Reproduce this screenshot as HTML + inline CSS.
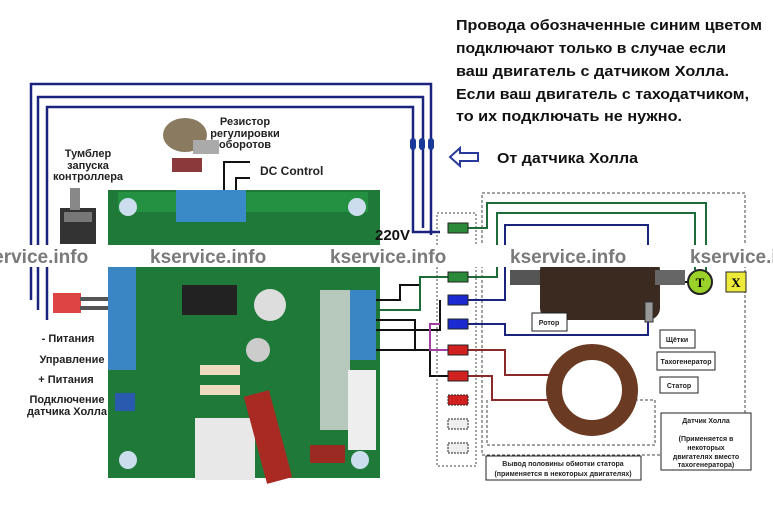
<!DOCTYPE html>
<html><head><meta charset="utf-8"><style>
body{margin:0;background:#fff;}
svg{display:block;font-family:"Liberation Sans","Noto Sans CJK SC",sans-serif;}
</style></head><body>
<svg width="773" height="511" viewBox="0 0 773 511" xmlns="http://www.w3.org/2000/svg">
<rect width="773" height="511" fill="#fff"/>
<g font-weight="bold" font-size="15" fill="#111">
<text x="456" y="30" textLength="306" lengthAdjust="spacingAndGlyphs">Провода обозначенные синим цветом</text>
<text x="456" y="53" textLength="270" lengthAdjust="spacingAndGlyphs">подключают только в случае если</text>
<text x="456" y="76" textLength="273" lengthAdjust="spacingAndGlyphs">ваш двигатель с датчиком Холла.</text>
<text x="456" y="99" textLength="293" lengthAdjust="spacingAndGlyphs">Если ваш двигатель с таходатчиком,</text>
<text x="456" y="121" textLength="226" lengthAdjust="spacingAndGlyphs">то их подключать не нужно.</text>
<text x="497" y="163" textLength="141" lengthAdjust="spacingAndGlyphs">От датчика Холла</text>
</g>
<path d="M450 157 L460 148 L460 153 L478 153 L478 161 L460 161 L460 166 Z" fill="none" stroke="#2a3a9a" stroke-width="2"/>
<g fill="none" stroke="#1a237e" stroke-width="2.5">
<path d="M31 300 V84 H431 V235"/>
<path d="M38 310 V97 H423 V228"/>
<path d="M47 320 V107 H413 V232 H440"/>
</g>
<g fill="#1a3a9a"><rect x="410" y="138" width="6" height="12" rx="3"/><rect x="419" y="138" width="6" height="12" rx="3"/><rect x="428" y="138" width="6" height="12" rx="3"/></g>
<g font-weight="bold" font-size="11" fill="#222" text-anchor="middle">
<text x="88" y="157">Тумблер</text><text x="88" y="169">запуска</text><text x="88" y="180">контроллера</text>
<text x="245" y="125">Резистор</text><text x="245" y="137">регулировки</text><text x="245" y="148">оборотов</text>
<text x="68" y="342">- Питания</text><text x="72" y="363">Управление</text><text x="66" y="383">+ Питания</text>
<text x="67" y="403">Подключение</text><text x="67" y="415">датчика Холла</text>
</g>
<text x="260" y="175" font-size="12" font-weight="bold" fill="#222">DC Control</text>
<path d="M224 193 V162 H250 M236 193 V178 H250" stroke="#111" stroke-width="2" fill="none"/>
<ellipse cx="185" cy="135" rx="22" ry="17" fill="#8a7a60"/><rect x="193" y="140" width="26" height="14" fill="#aaa"/><rect x="172" y="158" width="30" height="14" fill="#8a3a3a"/>
<rect x="60" y="208" width="36" height="36" fill="#333"/><rect x="70" y="188" width="10" height="22" fill="#888"/><rect x="64" y="212" width="28" height="10" fill="#777"/>
<rect x="53" y="293" width="28" height="20" fill="#d44"/><rect x="80" y="297" width="28" height="4" fill="#555"/><rect x="80" y="306" width="28" height="4" fill="#555"/>
<rect x="108" y="190" width="272" height="288" fill="#1f7a3a"/>
<rect x="118" y="192" width="250" height="20" fill="#239042"/>
<rect x="176" y="190" width="70" height="32" fill="#3a8ac8"/>
<rect x="108" y="265" width="28" height="105" fill="#3a86c4"/>
<rect x="350" y="290" width="26" height="70" fill="#3a86c4"/>
<rect x="182" y="285" width="55" height="30" fill="#222"/>
<circle cx="270" cy="305" r="16" fill="#ddd"/>
<circle cx="258" cy="350" r="12" fill="#ccc"/>
<rect x="320" y="290" width="30" height="140" fill="#ddd" opacity=".8"/>
<rect x="348" y="370" width="28" height="80" fill="#eee"/>
<rect x="195" y="418" width="60" height="62" fill="#e8e8e8"/>
<rect x="255" y="392" width="26" height="90" fill="#a82a22" transform="rotate(-15 268 437)"/>
<rect x="310" y="445" width="35" height="18" fill="#9a2a22"/>
<rect x="200" y="365" width="40" height="10" fill="#eedcc0"/><rect x="200" y="385" width="40" height="10" fill="#eedcc0"/>
<rect x="115" y="393" width="20" height="18" fill="#2a5ab0"/>
<circle cx="128" cy="207" r="9" fill="#cde"/><circle cx="128" cy="460" r="9" fill="#cde"/><circle cx="360" cy="460" r="9" fill="#cde"/><circle cx="357" cy="207" r="9" fill="#cde"/>
<text x="375" y="240" font-size="15" font-weight="bold" fill="#111">220V</text>
<g fill="none" stroke="#111" stroke-width="2">
<path d="M376 300 H400 V285 H420"/><path d="M376 330 H440 V300"/><path d="M376 350 H430 V376 H448"/><path d="M376 320 H415 V350"/>
</g>
<g fill="none" stroke="#1e6b3a" stroke-width="2"><path d="M376 310 H420 V277 H448"/></g>
<rect x="482" y="193" width="263" height="262" fill="none" stroke="#444" stroke-dasharray="3 2"/>
<rect x="437" y="213" width="39" height="253" fill="none" stroke="#444" stroke-dasharray="2 2"/>
<g fill="none" stroke-width="2">
<path d="M468 228 H487 V203 H706 V282" stroke="#1e6b3a"/>
<path d="M468 277 H497 V213 H695 V270" stroke="#1e6b3a"/>
<path d="M468 300 H505 V225 H648 V245" stroke="#1a237e"/>
<path d="M468 324 H505 V335 H648 V318" stroke="#1a237e"/>
<path d="M468 350 H505 V375 H550" stroke="#8a2a2a"/>
<path d="M468 376 H492 V400 H550" stroke="#8a2a2a"/>
<path d="M440 324 H430 V350 H448" stroke="#a040a0"/>
</g>
<g stroke="#222"><rect x="448" y="223" width="20" height="10" fill="#2a8a3a"/><rect x="448" y="272" width="20" height="10" fill="#2a8a3a"/><rect x="448" y="295" width="20" height="10" fill="#1a2ad0"/><rect x="448" y="319" width="20" height="10" fill="#1a2ad0"/><rect x="448" y="345" width="20" height="10" fill="#d02020"/><rect x="448" y="371" width="20" height="10" fill="#d02020"/><rect x="448" y="395" width="20" height="10" fill="#d02020" stroke-dasharray="2 1"/><rect x="448" y="419" width="20" height="10" fill="#eee" stroke-dasharray="2 1"/><rect x="448" y="443" width="20" height="10" fill="#eee" stroke-dasharray="2 1"/></g>
<rect x="510" y="270" width="40" height="15" fill="#555"/>
<rect x="540" y="258" width="120" height="62" rx="12" fill="#3a2a20"/>
<rect x="655" y="270" width="30" height="15" fill="#666"/>
<rect x="645" y="302" width="8" height="20" fill="#999" stroke="#333"/>
<line x1="685" y1="282" x2="700" y2="282" stroke="#111" stroke-width="2"/>
<circle cx="700" cy="282" r="12" fill="#9ad22a" stroke="#222" stroke-width="2"/><text x="700" y="287" font-size="13" font-weight="bold" text-anchor="middle" font-family="Liberation Serif,serif">T</text>
<rect x="726" y="272" width="20" height="20" fill="#eeea3a" stroke="#222"/><text x="736" y="287" font-size="13" font-weight="bold" text-anchor="middle" font-family="Liberation Serif,serif">X</text>
<circle cx="592" cy="390" r="38" fill="none" stroke="#6a3a22" stroke-width="16"/>
<path d="M487 400 V445 H655 V400 H636" fill="none" stroke="#444" stroke-dasharray="3 2"/>
<g fill="#fff" stroke="#222"><rect x="532" y="313" width="35" height="18"/><rect x="660" y="330" width="35" height="18"/><rect x="657" y="352" width="58" height="18"/><rect x="660" y="377" width="38" height="16"/><rect x="486" y="456" width="155" height="24"/><rect x="661" y="413" width="90" height="57"/></g>
<g font-size="7" font-weight="bold" fill="#222" text-anchor="middle">
<text x="549" y="325">Ротор</text><text x="677" y="342">Щётки</text><text x="686" y="364">Тахогенератор</text><text x="679" y="388">Статор</text>
<text x="563" y="466">Вывод половины обмотки статора</text><text x="563" y="476">(применяется в некоторых двигателях)</text>
<text x="706" y="423">Датчик Холла</text><text x="706" y="441">(Применяется в</text><text x="706" y="450">некоторых</text><text x="706" y="459">двигателях вместо</text><text x="706" y="467">тахогенератора)</text>
</g>
<rect x="0" y="245" width="773" height="22" fill="#fff"/>
<g font-size="19" font-weight="bold" fill="#7a7a7a">
<text x="-28" y="263">kservice.info</text><text x="150" y="263">kservice.info</text><text x="330" y="263">kservice.info</text><text x="510" y="263">kservice.info</text><text x="690" y="263">kservice.info</text>
</g>
</svg>
</body></html>
